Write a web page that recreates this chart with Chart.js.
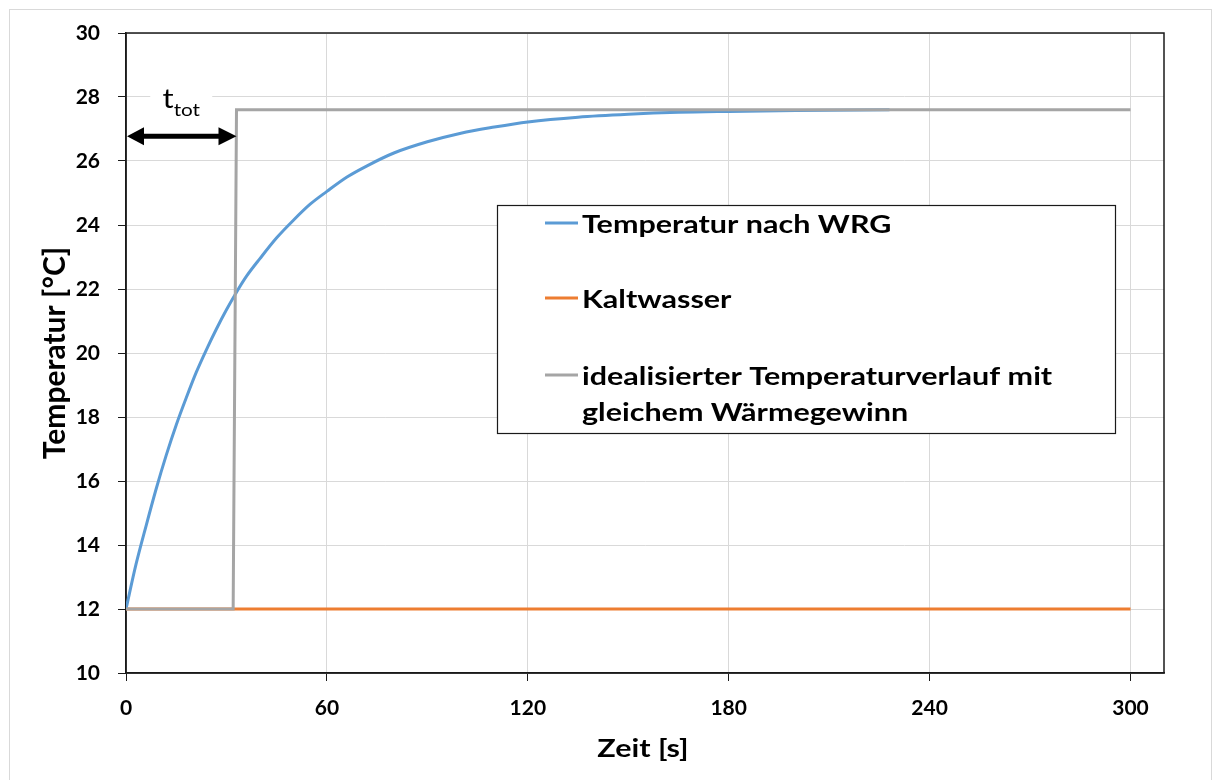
<!DOCTYPE html>
<html>
<head>
<meta charset="utf-8">
<title>Temperaturverlauf</title>
<script src="https://cdn.jsdelivr.net/npm/chart.js@4.4.1/dist/chart.umd.min.js"></script>
<style>
  body { margin: 0; background: #fff; }
  #chart { display: block; }
</style>
</head>
<body>
<canvas id="chart" width="1215" height="780"></canvas>
<script>
// series
const seriesNames = ['Temperatur nach WRG', 'Kaltwasser', 'idealisierter Temperaturverlauf mit gleichem Wärmegewinn'];

const wrgTimes  = [0, 3, 6, 9, 12, 15, 18, 21, 24, 27, 30, 33, 36, 40, 45, 50, 55, 60, 66, 72, 80, 90, 100, 110, 120, 135, 150, 165, 180, 200, 228];
const wrgTemps  = [12, 13.4, 14.6, 15.75, 16.8, 17.75, 18.6, 19.4, 20.1, 20.75, 21.35, 21.9, 22.4, 22.95, 23.6, 24.15, 24.65, 25.05, 25.5, 25.85, 26.25, 26.6, 26.87, 27.06, 27.22, 27.37, 27.46, 27.52, 27.55, 27.58, 27.6];

const kaltTimes = [0, 300];
const kaltTemps = [12, 12];

const idealTimes = [0, 32, 33, 300];
const idealTemps = [12, 12, 27.6, 27.6];

const xTicks = [0, 60, 120, 180, 240, 300];
const yTicks = [10, 12, 14, 16, 18, 20, 22, 24, 26, 28, 30];

const xTitle = 'Zeit [s]';
const yTitle = 'Temperatur [°C]';

// t_tot annotation
const tTot = 33;
const arrowLevel = 26.77;

const colors = ['#5b9bd5', '#ed7d31', '#a5a5a5'];
const FONT = 'Lato';
const STRETCH = 1.22;   // text in the picture is a bit wider than the font

function toPoints(xs, ys) {
    return xs.map((x, i) => ({ x: x, y: ys[i] }));
}

// draw text widened horizontally, anchored at x (left/center)
function wideText(ctx, text, x, y, align, k) {
    const w = ctx.measureText(text).width * k;
    const left = align === 'center' ? x - w / 2 : x;
    ctx.save();
    ctx.translate(left, y);
    ctx.scale(k, 1);
    ctx.textAlign = 'left';
    ctx.fillText(text, 0, 0);
    ctx.restore();
    return w;
}

const framePlugin = {
    id: 'frame',
    beforeDraw(chart) {
        const ctx = chart.ctx;
        ctx.save();
        ctx.fillStyle = '#fff';
        ctx.fillRect(0, 0, chart.width, chart.height);
        ctx.strokeStyle = '#d9d9d9';
        ctx.lineWidth = 1;
        ctx.strokeRect(9.5, 9.5, 1202, 800);
        ctx.restore();
    },
    beforeDatasetsDraw(chart) {
        const a = chart.chartArea;
        const ctx = chart.ctx;
        ctx.save();
        ctx.strokeStyle = '#1a1a1a';
        ctx.lineWidth = 1.5;
        ctx.strokeRect(a.left, a.top, a.right - a.left, a.bottom - a.top);
        ctx.restore();
    },
    afterDraw(chart) {
        const a = chart.chartArea;
        const ctx = chart.ctx;
        ctx.save();
        ctx.fillStyle = '#000';
        ctx.font = 'bold 25px ' + FONT;
        ctx.textBaseline = 'alphabetic';
        wideText(ctx, xTitle, (a.left + a.right) / 2 - 2, 757, 'center', STRETCH);
        ctx.restore();
    }
};

const annotationPlugin = {
    id: 'ttot',
    afterDatasetsDraw(chart) {
        const ctx = chart.ctx;
        const xs = chart.scales.x, ys = chart.scales.y;
        const x0 = xs.getPixelForValue(0);
        const x1 = xs.getPixelForValue(tTot);
        const y = ys.getPixelForValue(arrowLevel);
        const head = 18, half = 9;
        ctx.save();
        ctx.fillStyle = '#000';
        ctx.strokeStyle = '#000';
        ctx.lineWidth = 5;
        ctx.beginPath();
        ctx.moveTo(x0 + head - 2, y);
        ctx.lineTo(x1 - head + 2, y);
        ctx.stroke();
        ctx.beginPath();
        ctx.moveTo(x0 + 1, y);
        ctx.lineTo(x0 + head, y - half);
        ctx.lineTo(x0 + head, y + half);
        ctx.closePath();
        ctx.fill();
        ctx.beginPath();
        ctx.moveTo(x1, y);
        ctx.lineTo(x1 - head, y - half);
        ctx.lineTo(x1 - head, y + half);
        ctx.closePath();
        ctx.fill();

        // label t_tot
        const mid = (x0 + x1) / 2;
        const base = ys.getPixelForValue(28) + 11;
        const k = 1.15;
        ctx.font = '27px ' + FONT;
        const wt = ctx.measureText('t').width * k;
        ctx.font = '18px ' + FONT;
        const ws = ctx.measureText('tot').width * k;
        const start = mid - (wt + ws) / 2;
        ctx.fillStyle = '#fff';
        ctx.fillRect(mid - 31, base - 22, 62, 32);
        ctx.fillStyle = '#000';
        ctx.textBaseline = 'alphabetic';
        ctx.font = '27px ' + FONT;
        wideText(ctx, 't', start, base, 'left', k);
        ctx.font = '18px ' + FONT;
        wideText(ctx, 'tot', start + wt, base + 8, 'left', k);
        ctx.restore();
    }
};

const legendPlugin = {
    id: 'boxLegend',
    afterDraw(chart) {
        const ctx = chart.ctx;
        const box = { x: 497.5, y: 205.5, w: 618, h: 228 };
        const rows = [223, 298, 375];
        ctx.save();
        ctx.fillStyle = '#fff';
        ctx.fillRect(box.x, box.y, box.w, box.h);
        ctx.strokeStyle = '#1a1a1a';
        ctx.lineWidth = 1.2;
        ctx.strokeRect(box.x, box.y, box.w, box.h);
        ctx.font = 'bold 25px ' + FONT;
        ctx.textBaseline = 'alphabetic';
        chart.data.datasets.forEach((ds, i) => {
            const ly = rows[i];
            ctx.strokeStyle = ds.borderColor;
            ctx.lineWidth = 3;
            ctx.beginPath();
            ctx.moveTo(545, ly);
            ctx.lineTo(578, ly);
            ctx.stroke();
            // wrap label inside the box
            const words = ds.label.split(' ');
            const lines = [];
            let cur = '';
            words.forEach(w => {
                const test = cur ? cur + ' ' + w : w;
                if (ctx.measureText(test).width * STRETCH > 510 && cur) {
                    lines.push(cur);
                    cur = w;
                } else {
                    cur = test;
                }
            });
            lines.push(cur);
            ctx.fillStyle = '#000';
            lines.forEach((ln, k) => wideText(ctx, ln, 582, ly + 10 + k * 36, 'left', STRETCH));
        });
        ctx.restore();
    }
};

const ctx = document.getElementById('chart').getContext('2d');
const chart = new Chart(ctx, {
    type: 'line',
    data: {
        datasets: [{
            label: seriesNames[0],
            data: toPoints(wrgTimes, wrgTemps),
            borderColor: colors[0],
            borderWidth: 3,
            pointRadius: 0,
            cubicInterpolationMode: 'monotone',
            order: 1
        }, {
            label: seriesNames[1],
            data: toPoints(kaltTimes, kaltTemps),
            borderColor: colors[1],
            borderWidth: 3,
            pointRadius: 0,
            order: 2
        }, {
            label: seriesNames[2],
            data: toPoints(idealTimes, idealTemps),
            borderColor: colors[2],
            borderWidth: 3,
            pointRadius: 0,
            order: 0
        }]
    },
    options: {
        responsive: false,
        animation: false,
        devicePixelRatio: 1,
        layout: { padding: { left: 0, top: 33, right: 51, bottom: 0 } },
        plugins: {
            legend: { display: false },
            tooltip: { enabled: false }
        },
        scales: {
            x: {
                type: 'linear',
                min: 0,
                max: 310,
                afterFit(scale) { scale.height = 107; },
                afterBuildTicks(scale) { scale.ticks = xTicks.map(v => ({ value: v })); },
                ticks: {
                    includeBounds: false,
                    color: '#000',
                    padding: 15,
                    font: { family: FONT, size: 21, weight: 'bold' }
                },
                grid: { color: '#d9d9d9', tickColor: '#1a1a1a', tickLength: 8, lineWidth: 1 },
                border: { color: '#1a1a1a', width: 1.5 },
                title: { display: false }
            },
            y: {
                min: 10,
                max: 30,
                afterFit(scale) { scale.width = 126; },
                afterBuildTicks(scale) { scale.ticks = yTicks.map(v => ({ value: v })); },
                ticks: {
                    color: '#000',
                    padding: 18,
                    font: { family: FONT, size: 21, weight: 'bold' }
                },
                grid: { color: '#d9d9d9', tickColor: '#1a1a1a', tickLength: 8, lineWidth: 1 },
                border: { color: '#1a1a1a', width: 1.5 },
                title: {
                    display: true,
                    text: yTitle,
                    color: '#000',
                    padding: { top: 37, bottom: 0 },
                    font: { family: FONT, size: 30, weight: 'bold' }
                }
            }
        }
    },
    plugins: [framePlugin, annotationPlugin, legendPlugin]
});
</script>
</body>
</html>
